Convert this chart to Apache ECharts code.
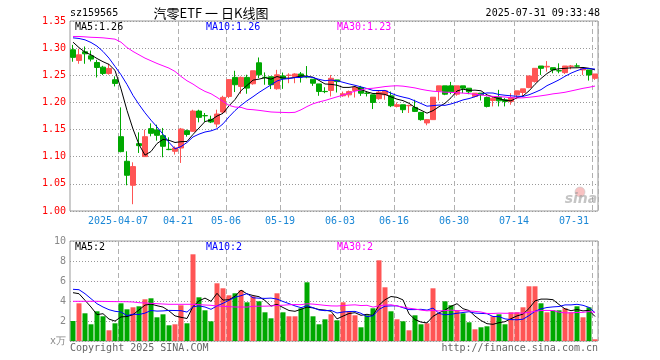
<!DOCTYPE html>
<html><head><meta charset="utf-8">
<script src="https://cdn.jsdelivr.net/npm/echarts@6/dist/echarts.min.js"></script>
<style>html,body{margin:0;padding:0;background:#fff}#c{width:660px;height:360px}</style>
</head><body><div id="c"></div>
<script>
const dates = ['2025-03-25','2025-03-26','2025-03-27','2025-03-28','2025-03-31',
'2025-04-01','2025-04-02','2025-04-03','2025-04-07','2025-04-08','2025-04-09','2025-04-10','2025-04-11',
'2025-04-14','2025-04-15','2025-04-16','2025-04-17','2025-04-18','2025-04-21','2025-04-22','2025-04-23','2025-04-24','2025-04-25',
'2025-04-28','2025-04-29','2025-04-30','2025-05-06','2025-05-07','2025-05-08','2025-05-09',
'2025-05-12','2025-05-13','2025-05-14','2025-05-15','2025-05-16','2025-05-19','2025-05-20','2025-05-21','2025-05-22','2025-05-23',
'2025-05-26','2025-05-27','2025-05-28','2025-05-29','2025-05-30','2025-06-03','2025-06-04','2025-06-05','2025-06-06',
'2025-06-09','2025-06-10','2025-06-11','2025-06-12','2025-06-13','2025-06-16','2025-06-17','2025-06-18','2025-06-19','2025-06-20',
'2025-06-23','2025-06-24','2025-06-25','2025-06-26','2025-06-27','2025-06-30','2025-07-01','2025-07-02','2025-07-03','2025-07-04',
'2025-07-07','2025-07-08','2025-07-09','2025-07-10','2025-07-11','2025-07-14','2025-07-15','2025-07-16','2025-07-17','2025-07-18',
'2025-07-21','2025-07-22','2025-07-23','2025-07-24','2025-07-25','2025-07-28','2025-07-29','2025-07-30','2025-07-31'];

const opens = [1.297,1.2773,1.2933,1.2859,1.2736,1.265,1.2534,1.2418,1.1369,1.0916,
1.0474,1.1241,1.1002,1.1517,1.1492,1.1388,1.1137,1.110,1.116,1.148,
1.1468,1.1841,1.1758,1.1688,1.1602,1.1823,1.211,1.2461,1.2295,1.2461,
1.2344,1.273,1.2463,1.2473,1.2252,1.2488,1.2498,1.2476,1.2524,1.2472,
1.2427,1.2341,1.2203,1.222,1.2415,1.2122,1.214,1.222,1.2274,1.2172,
1.214,1.207,1.214,1.2122,1.1927,1.1957,1.1939,1.1908,1.1817,1.1622,
1.1683,1.2213,1.2305,1.2305,1.2152,1.2305,1.2262,1.211,1.2171,1.2091,
1.2036,1.2091,1.2049,1.2018,1.214,1.2183,1.2274,1.2384,1.2671,1.2653,
1.264,1.2585,1.2549,1.2665,1.2673,1.2598,1.2598,1.2445];
const closes = [1.283,1.2877,1.2896,1.2798,1.2644,1.2534,1.2626,1.235,1.1094,1.0658,
1.0818,1.1204,1.1369,1.1431,1.1394,1.1192,1.1131,1.116,1.151,1.141,
1.1841,1.1725,1.1754,1.1639,1.1786,1.2093,1.242,1.2326,1.2461,1.2264,
1.2583,1.251,1.2459,1.2326,1.2508,1.2439,1.2502,1.2524,1.2476,1.2468,
1.2354,1.2201,1.2199,1.2445,1.2384,1.2158,1.220,1.228,1.217,1.2168,
1.20,1.219,1.2213,1.1939,1.1957,1.1866,1.1945,1.1835,1.1683,1.1683,
1.2097,1.2305,1.2152,1.2195,1.2305,1.2262,1.2195,1.2171,1.214,1.1927,
1.2079,1.203,1.2018,1.2091,1.2213,1.225,1.2488,1.2628,1.2628,1.2665,
1.2598,1.258,1.2671,1.2671,1.2669,1.2628,1.2506,1.2524];
const lows = [1.275,1.2712,1.2712,1.2755,1.246,1.2504,1.251,1.2295,1.1081,1.0474,
1.0125,1.1069,1.100,1.1376,1.1296,1.099,1.112,1.104,1.0885,1.137,
1.1455,1.1633,1.164,1.162,1.154,1.1805,1.208,1.2191,1.216,1.216,
1.2326,1.2448,1.2326,1.2246,1.2234,1.225,1.2354,1.2354,1.2366,1.2445,
1.2305,1.2122,1.217,1.211,1.2183,1.2104,1.209,1.209,1.212,1.211,
1.1878,1.205,1.2049,1.1914,1.1908,1.1805,1.1805,1.1823,1.1664,1.1579,
1.1683,1.2036,1.2134,1.2152,1.2122,1.2171,1.2152,1.2097,1.2036,1.1908,
1.1927,1.1927,1.1927,1.1957,1.2061,1.211,1.2262,1.2366,1.2506,1.2567,
1.2537,1.2537,1.2524,1.261,1.2646,1.2506,1.2402,1.2415];
const highs = [1.306,1.2988,1.303,1.2957,1.2785,1.2675,1.2712,1.248,1.1909,1.110,
1.0897,1.1449,1.1498,1.1615,1.159,1.153,1.1357,1.119,1.153,1.150,
1.1866,1.1866,1.1805,1.1756,1.1866,1.2123,1.243,1.2583,1.2479,1.251,
1.2583,1.2828,1.2553,1.2473,1.260,1.255,1.2537,1.2537,1.256,1.267,
1.2427,1.2341,1.228,1.2506,1.2415,1.220,1.222,1.229,1.2305,1.221,
1.214,1.222,1.2213,1.2201,1.200,1.1957,1.1957,1.2049,1.1817,1.1695,
1.2097,1.2305,1.2305,1.2378,1.2305,1.2305,1.2262,1.2171,1.2171,1.211,
1.211,1.2232,1.208,1.217,1.2213,1.225,1.2488,1.2628,1.2671,1.2762,
1.264,1.272,1.2671,1.269,1.272,1.2628,1.2598,1.2524];
const volumes = [2.0,3.77,2.77,1.67,2.97,2.47,1.07,1.77,3.77,3.17,
3.37,3.47,4.17,4.27,2.37,2.67,1.57,1.67,3.57,1.77,
8.67,4.37,3.07,1.97,5.77,5.27,4.57,4.77,5.07,3.87,
4.47,3.97,2.87,2.27,4.77,2.87,2.47,2.47,3.27,5.87,
2.47,1.67,2.17,2.67,2.07,3.87,2.97,2.57,1.37,2.57,
3.27,8.07,5.37,2.97,2.17,1.97,1.07,2.57,1.67,1.77,
5.27,2.77,3.97,3.57,3.07,2.77,1.87,1.17,1.37,1.47,
2.47,2.67,1.67,2.87,2.87,3.37,5.47,5.47,3.77,2.87,
3.07,3.07,3.27,2.87,3.47,2.37,3.37,0.17];

// moving-average values for the days before a full window exists
const ma5Head = [1.311,1.301,1.2926,1.2877];
const ma10Head = [1.319,1.3178,1.3153,1.3104,1.3037,1.2939,1.2816,1.2663,1.251];
const ma30Head = [1.3215,1.3215,1.3208,1.320,1.3196,1.319,1.3178,1.3166,1.311,1.3012,
1.2939,1.2877,1.2816,1.2767,1.2718,1.2675,1.2632,1.2571,1.2479,1.2399,
1.2338,1.2264,1.2203,1.216,1.2093,1.2019,1.1946,1.1915,1.1909];
const vma5Head = [4.83,4.73,4.07,3.4];
const vma10Head = [5.17,5.13,4.73,4.23,3.73,3.4,3.13,2.97,2.9];
const vma30Head = [3.97,3.97,3.97,3.97,3.97,3.96,3.95,3.94,3.93,3.93,
3.9,3.83,3.8,3.77,3.73,3.7,3.67,3.67,3.67,3.67,
3.67,3.63,3.6,3.57,3.5,3.47,3.43,3.4,3.4];

const labelDates = ['2025-04-07','2025-04-21','2025-05-06','2025-05-19','2025-06-03','2025-06-16','2025-06-30','2025-07-14','2025-07-31'];
const priceMin = 1.00, priceMax = 1.35, priceStep = 0.05;
const volMin = 0, volMax = 10, volStep = 2;

function ma(vals, n, head) {
  return vals.map((v, i) => {
    if (i < head.length) return head[i];
    let s = 0; for (let j = i - n + 1; j <= i; j++) s += vals[j];
    return +(s / n).toFixed(4);
  });
}
const ma5 = ma(closes, 5, ma5Head), ma10 = ma(closes, 10, ma10Head), ma30 = ma(closes, 30, ma30Head);
const vma5 = ma(volumes, 5, vma5Head), vma10 = ma(volumes, 10, vma10Head), vma30 = ma(volumes, 30, vma30Head);

const UP = '#ff5555', DOWN = '#00a800';
const MONO = '"DejaVu Sans Mono", monospace';
const labelSet = new Set(labelDates);
const isLabel = (i, v) => labelSet.has(v);
const candles = dates.map((d, i) => [opens[i], closes[i], lows[i], highs[i]]);
const volBars = volumes.map((v, i) => ({value: v, itemStyle: {color: closes[i] >= opens[i] ? UP : DOWN}}));
const last = a => a[a.length - 1];

const chart = echarts.init(document.getElementById('c'), null, {renderer: 'canvas'});
const grid = (top, height) => ({left: 70, width: 528, top, height, show: true, borderColor: '#999', borderWidth: 1, backgroundColor: 'transparent'});
const xCommon = (gi, showLabel) => ({
  type: 'category', gridIndex: gi, data: dates, boundaryGap: true,
  axisLine: {show: false}, axisTick: {show: false},
  axisLabel: showLabel ? {
    show: true, interval: isLabel, color: '#1a87d6', fontFamily: MONO, fontSize: 10, margin: 5,
    padding: [0, 6, 0, 0], alignMaxLabel: 'right',
    formatter: v => v === labelDates[0] ? v : v.slice(5)
  } : {show: false},
  splitLine: {show: true, interval: isLabel, lineStyle: {color: '#b0b0b0', type: [5, 3], width: 1}}
});
const lineS = (name, data, color, xi, yi) => ({
  name, type: 'line', data, xAxisIndex: xi, yAxisIndex: yi, showSymbol: false, symbol: 'none',
  lineStyle: {color, width: 1}, silent: true, animation: false, z: 5
});

chart.setOption({
  animation: false,
  grid: [grid(21, 190), grid(241, 100)],
  xAxis: [xCommon(0, true), xCommon(1, false)],
  yAxis: [
    {type: 'value', gridIndex: 0, min: priceMin, max: priceMax, interval: priceStep,
     axisLine: {show: false}, axisTick: {show: false},
     axisLabel: {color: '#ff0000', fontFamily: MONO, fontSize: 10, margin: 4, formatter: v => v.toFixed(2)},
     splitLine: {show: true, lineStyle: {color: '#999', type: [1, 2]}}},
    {type: 'value', gridIndex: 1, min: volMin, max: volMax, interval: volStep,
     axisLine: {show: false}, axisTick: {show: false},
     axisLabel: {color: '#888', fontFamily: MONO, fontSize: 10, margin: 4, formatter: v => v === 0 ? 'x万' : String(v)},
     splitLine: {show: true, lineStyle: {color: '#999', type: [1, 2]}}}
  ],
  series: [
    {type: 'candlestick', data: candles, xAxisIndex: 0, yAxisIndex: 0, barWidth: 5,
     itemStyle: {color: UP, color0: DOWN, borderColor: UP, borderColor0: DOWN, borderWidth: 1}, z: 3},
    lineS('MA5', ma5, '#000000', 0, 0),
    lineS('MA10', ma10, '#0000ff', 0, 0),
    lineS('MA30', ma30, '#ff00ff', 0, 0),
    {type: 'bar', data: volBars, xAxisIndex: 1, yAxisIndex: 1, barWidth: 5, z: 3},
    lineS('VMA5', vma5, '#000000', 1, 1),
    lineS('VMA10', vma10, '#0000ff', 1, 1),
    lineS('VMA30', vma30, '#ff00ff', 1, 1)
  ],
  graphic: [
    {type: 'text', x: 70, y: 13, style: {text: 'sz159565', font: '10px ' + MONO, fill: '#000', textVerticalAlign: 'middle'}},
    {type: 'text', x: 211, y: 13, style: {text: '汽零ETF 一 日K线图', font: '13px "Noto Sans CJK SC"', fill: '#000', textAlign: 'center', textVerticalAlign: 'middle'}},
    {type: 'text', x: 600, y: 13, style: {text: '2025-07-31 09:33:48', font: '10px ' + MONO, fill: '#000', textAlign: 'right', textVerticalAlign: 'middle'}},
    {type: 'text', x: 75, y: 27, z: 10, style: {text: 'MA5:' + last(ma5).toFixed(2), font: '10px ' + MONO, fill: '#000', textVerticalAlign: 'middle'}},
    {type: 'text', x: 206, y: 27, z: 10, style: {text: 'MA10:' + last(ma10).toFixed(2), font: '10px ' + MONO, fill: '#0000ff', textVerticalAlign: 'middle'}},
    {type: 'text', x: 337, y: 27, z: 10, style: {text: 'MA30:' + last(ma30).toFixed(2), font: '10px ' + MONO, fill: '#ff00ff', textVerticalAlign: 'middle'}},
    {type: 'text', x: 75, y: 247, z: 10, style: {text: 'MA5:' + Math.floor(last(vma5)), font: '10px ' + MONO, fill: '#000', textVerticalAlign: 'middle'}},
    {type: 'text', x: 206, y: 247, z: 10, style: {text: 'MA10:' + Math.floor(last(vma10)), font: '10px ' + MONO, fill: '#0000ff', textVerticalAlign: 'middle'}},
    {type: 'text', x: 337, y: 247, z: 10, style: {text: 'MA30:' + Math.floor(last(vma30)), font: '10px ' + MONO, fill: '#ff00ff', textVerticalAlign: 'middle'}},
    {type: 'text', x: 70, y: 348, style: {text: 'Copyright 2025 SINA.COM', font: '10px ' + MONO, fill: '#666', textVerticalAlign: 'middle'}},
    {type: 'text', x: 598, y: 348, style: {text: 'http://finance.sina.com.cn', font: '10px ' + MONO, fill: '#666', textAlign: 'right', textVerticalAlign: 'middle'}},
    {type: 'circle', shape: {cx: 580, cy: 192, r: 5}, style: {fill: 'rgba(240,120,120,0.45)', stroke: 'rgba(200,200,200,0.6)', lineWidth: 1}, z: 1},
    {type: 'text', x: 581, y: 199, z: 1, style: {text: 'sina', font: 'italic bold 14px "DejaVu Sans"', fill: 'rgba(150,150,150,0.55)', textAlign: 'center', textVerticalAlign: 'middle'}}
  ]
});
</script></body></html>
